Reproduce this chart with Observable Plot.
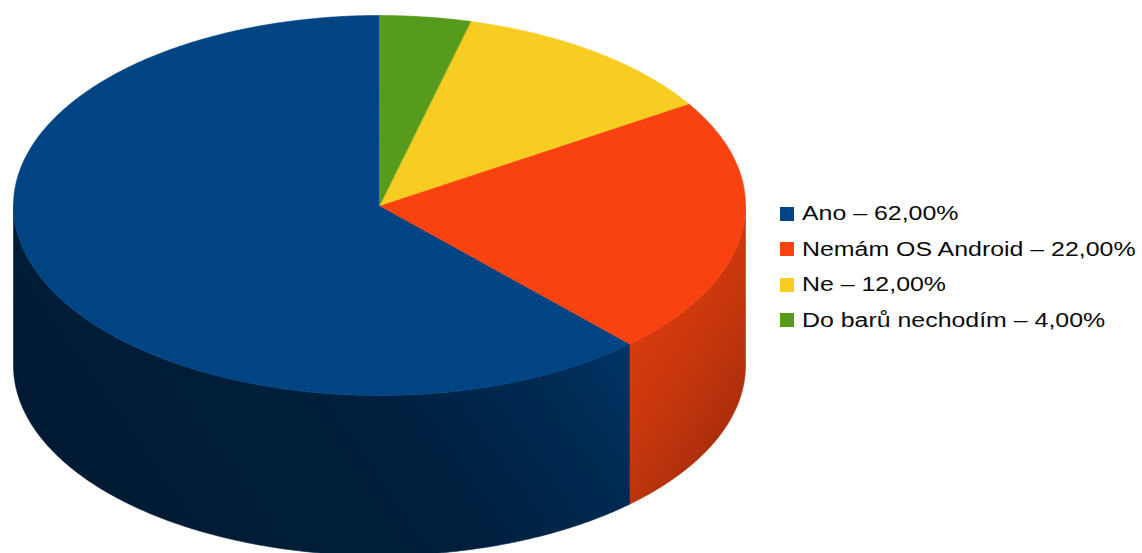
<!DOCTYPE html>
<html>
<head>
<meta charset="utf-8">
<script src="https://cdn.jsdelivr.net/npm/d3@7"></script>
<script src="https://cdn.jsdelivr.net/npm/@observablehq/plot@0.6"></script>
<style>
  html, body { margin: 0; padding: 0; background: #fff; }
  #wrap { position: relative; width: 1142px; height: 553px; overflow: hidden; }
  #wrap svg { position: absolute; left: 0; top: 0; }
  #legend { position: absolute; left: 780px; top: 196px; font-family: "Liberation Sans", Arial, sans-serif; font-size: 20px; color: #0a0a0a; }
  .row { display: flex; align-items: center; height: 35.5px; white-space: nowrap; }
  .sw { width: 14px; height: 14px; margin-right: 8px; flex: none; }
  .tx { display: inline-block; transform: scaleX(1.245); transform-origin: 0 50%; }
</style>
</head>
<body>
<div id="wrap"></div>
<script>
// ---- data ----
const labels = ["Ano", "Nemám OS Android", "Ne", "Do barů nechodím"];
const values = [62, 22, 12, 4];
const valueLabels = ["62,00%", "22,00%", "12,00%", "4,00%"];
const topColors = ["#004483", "#f8420f", "#f8cd21", "#579b1d"];
const sideFills = ["url(#sideBlue)", "url(#sideOrange)", "url(#sideYellow)", "url(#sideGreen)"];

// ---- geometry (pie radius = 1) ----
const tilt = 190 / 366;   // vertical squash of the top ellipse
const depth = 160 / 366;  // cylinder height
const total = d3.sum(values);
const rad = d => d * Math.PI / 180;

let cum = 0;
const slices = values.map((v, i) => {
  const a0 = cum / total * 360, a1 = (cum + v) / total * 360;
  cum += v;
  // counter-clockwise from 12 o'clock -> clockwise angles [360-a1, 360-a0]
  return {i, t0: 360 - a1, t1: 360 - a0};
});

function arc(t0, t1, dy) {
  const pts = [];
  const n = Math.max(2, Math.ceil((t1 - t0) / 0.5));
  for (let k = 0; k <= n; k++) {
    const t = t0 + (t1 - t0) * k / n;
    pts.push({x: Math.sin(rad(t)), y: tilt * Math.cos(rad(t)) - dy});
  }
  return pts;
}

const marks = [];
// sides (only front half visible: 90..270)
slices.forEach(s => {
  const lo = Math.max(s.t0, 90), hi = Math.min(s.t1, 270);
  if (lo < hi) {
    const pts = arc(lo, hi, 0).concat(arc(lo, hi, depth).reverse());
    marks.push(Plot.line(pts, {x: "x", y: "y", curve: "linear-closed", fill: sideFills[s.i], stroke: sideFills[s.i], strokeWidth: 0.6}));
  }
});
// tops
slices.forEach(s => {
  const pts = [{x: 0, y: 0}].concat(arc(s.t0, s.t1, 0));
  marks.push(Plot.line(pts, {x: "x", y: "y", curve: "linear-closed", fill: topColors[s.i], stroke: topColors[s.i], strokeWidth: 0.6}));
});

const W = 1142, H = 553, cxp = 379, cyp = 205, R = 366;
const svg = Plot.plot({
  width: W, height: H, margin: 0,
  x: {domain: [-cxp / R, (W - cxp) / R], axis: null},
  y: {domain: [(cyp - H) / R, cyp / R], axis: null},
  marks
});

const defs = d3.select(svg).insert("defs", ":first-child");
function grad(id, x1, y1, x2, y2, stops) {
  const g = defs.append("linearGradient").attr("id", id)
    .attr("x1", x1).attr("y1", y1).attr("x2", x2).attr("y2", y2);
  stops.forEach(([o, c]) => g.append("stop").attr("offset", o).attr("stop-color", c));
}
grad("sideBlue", 0, 0.6, 1, 0.2, [[0, "#001a33"], [0.5, "#001f3c"], [0.8, "#002b55"], [1, "#003a6f"]]);
grad("sideOrange", 0, 0, 0.6, 1, [[0, "#e4400e"], [0.5, "#cf390d"], [1, "#a62d0b"]]);
grad("sideYellow", 0, 0, 1, 1, [[0, "#d8b01c"], [1, "#9a7a10"]]);
grad("sideGreen", 0, 0, 1, 1, [[0, "#4a8418"], [1, "#2f5a0e"]]);

const wrap = document.getElementById("wrap");
wrap.appendChild(svg);

const legend = document.createElement("div");
legend.id = "legend";
labels.forEach((l, i) => {
  const row = document.createElement("div");
  row.className = "row";
  const sw = document.createElement("span");
  sw.className = "sw";
  sw.style.background = topColors[i];
  const tx = document.createElement("span");
  tx.className = "tx";
  tx.textContent = `${l} – ${valueLabels[i]}`;
  row.appendChild(sw); row.appendChild(tx);
  legend.appendChild(row);
});
wrap.appendChild(legend);
</script>
</body>
</html>
